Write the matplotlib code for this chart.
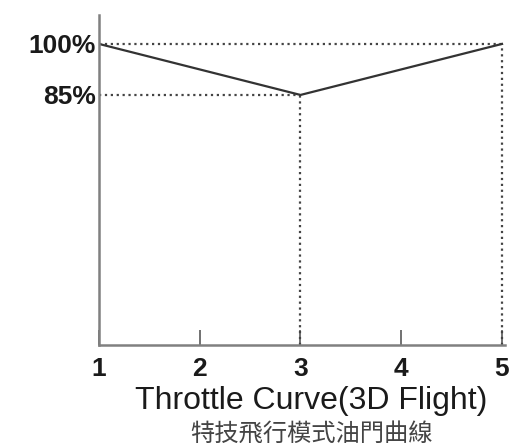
import matplotlib.pyplot as plt

# Throttle curve points (stick position -> throttle %)
stick_pos = [1, 3, 5]
throttle = [100, 85, 100]

x_ticks = [1, 2, 3, 4, 5]
y_ticks = [100, 85]
y_labels = ["100%", "85%"]

title_en = "Throttle Curve(3D Flight)"
title_zh = "特技飛行模式油門曲線"

fig = plt.figure(figsize=(5.16, 4.43), dpi=100)
ax = fig.add_axes([99 / 516, (443 - 345) / 443, (505 - 99) / 516, (345 - 15) / 443])

ax.set_xlim(1, 5.03)
ax.set_ylim(11.5, 108.5)

# dotted guide lines
ax.plot([stick_pos[0], stick_pos[2]], [throttle[0], throttle[2]], ls=":", color="#444444", lw=1.6)
ax.plot([stick_pos[0], stick_pos[1]], [throttle[1], throttle[1]], ls=":", color="#444444", lw=1.6)
for x, y in zip(stick_pos[1:], throttle[1:]):
    ax.plot([x, x], [ax.get_ylim()[0], y], ls=":", color="#444444", lw=1.6)

# the curve itself
ax.plot(stick_pos, throttle, color="#333333", lw=1.6, solid_joinstyle="miter")

for side in ["top", "right"]:
    ax.spines[side].set_visible(False)
for side in ["left", "bottom"]:
    ax.spines[side].set_color("#808080")
    ax.spines[side].set_linewidth(1.8)

ax.set_xticks(x_ticks)
ax.set_xticklabels([str(t) for t in x_ticks], fontfamily="Liberation Sans",
                   fontweight="bold", fontsize=19, color="#1a1a1a")
ax.tick_params(axis="x", direction="in", length=11, width=1.3, color="#666666", pad=9)

ax.set_yticks(y_ticks)
ax.set_yticklabels(y_labels, fontfamily="Liberation Sans", fontweight="bold",
                   fontsize=19, color="#1a1a1a")
ax.tick_params(axis="y", length=0, pad=2)

fig.text(311 / 516, (443 - 401) / 443, title_en, ha="center", va="center",
         fontfamily="Liberation Sans", fontsize=23, color="#1a1a1a")
fig.text(312 / 516, (443 - 422) / 443, title_zh, ha="center", va="top",
         fontfamily=["Noto Sans CJK TC", "DejaVu Sans"], fontsize=17.5, color="#444444")

fig.savefig("out.png", dpi=100)
